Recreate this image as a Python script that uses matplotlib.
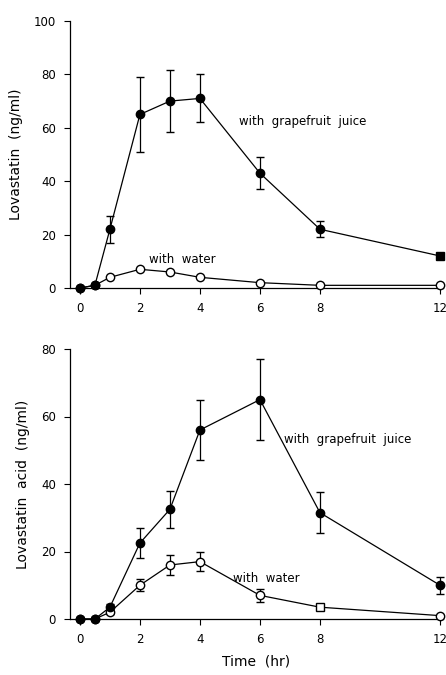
import numpy as np
import matplotlib
matplotlib.use('Agg')
import matplotlib.pyplot as plt

plt.rcParams['font.family'] = ['DejaVu Sans']

time = [0, 0.5, 1, 2, 3, 4, 6, 8, 12]
xticks = [0, 2, 4, 6, 8, 12]

# Lovastatin (top panel)
lov_gfj = [0, 1, 22, 65, 70, 71, 43, 22, 12]
lov_gfj_err = [0, 0, 5, 14, 11.5, 9, 6, 3, 1]
lov_water = [0, 1, 4, 7, 6, 4, 2, 1, 1]

# Lovastatin acid (bottom panel)
acid_gfj = [0, 0, 3.5, 22.5, 32.5, 56, 65, 31.5, 10]
acid_gfj_err = [0, 0, 1, 4.5, 5.5, 9, 12, 6, 2.5]
acid_water = [0, 0, 2, 10, 16, 17, 7, 3.5, 1]
acid_water_err = [0, 0, 0.5, 1.8, 3, 2.8, 2, 0.5, 0.3]

fig = plt.figure(figsize=(4.46, 6.75), dpi=100)
ax1 = fig.add_axes([70/446, 1-288/675, 373/446, 267/675])
ax2 = fig.add_axes([70/446, 1-619/675, 373/446, 270/675])


def style(ax, ymax, ystep, ylabel):
    ax.set_xlim(-0.33, 12.1)
    ax.set_ylim(0, ymax)
    ax.set_yticks(np.arange(0, ymax + 1, ystep))
    ax.set_xticks(xticks)
    ax.spines['top'].set_visible(False)
    ax.spines['right'].set_visible(False)
    ax.spines['left'].set_linewidth(0.9)
    ax.spines['bottom'].set_linewidth(0.9)
    ax.tick_params(direction='out', length=4, width=0.8, labelsize=8.5, pad=6)
    ax.set_ylabel(ylabel, fontsize=10, labelpad=8)


def draw(ax, x, y, yerr, filled, square_idx=None):
    fc = 'black' if filled else 'white'
    circ = [i for i in range(len(x)) if i != square_idx]
    ax.errorbar(x, y, yerr=yerr, color='black', lw=0.9, elinewidth=0.9,
                capsize=3, capthick=0.9, marker='o', ms=6, mfc=fc,
                mec='black', mew=1.0, markevery=circ, clip_on=False, zorder=3)
    if square_idx is not None:
        ax.plot([x[square_idx]], [y[square_idx]], 's', ms=5.5, mfc=fc,
                mec='black', mew=1.0, clip_on=False, zorder=4)


style(ax1, 100, 20, 'Lovastatin  (ng/ml)')
draw(ax1, time, lov_water, None, False)
draw(ax1, time, lov_gfj, lov_gfj_err, True, square_idx=8)
ax1.text(5.3, 61, 'with  grapefruit  juice', fontsize=8.5)
ax1.text(2.3, 9.5, 'with  water', fontsize=8.5)

style(ax2, 80, 20, 'Lovastatin  acid  (ng/ml)')
draw(ax2, time, acid_water, acid_water_err, False, square_idx=7)
draw(ax2, time, acid_gfj, acid_gfj_err, True)
ax2.text(6.8, 52, 'with  grapefruit  juice', fontsize=8.5)
ax2.text(5.1, 11, 'with  water', fontsize=8.5)
ax2.set_xlabel('Time  (hr)', fontsize=10, labelpad=6)

fig.savefig('out.png', dpi=100)
